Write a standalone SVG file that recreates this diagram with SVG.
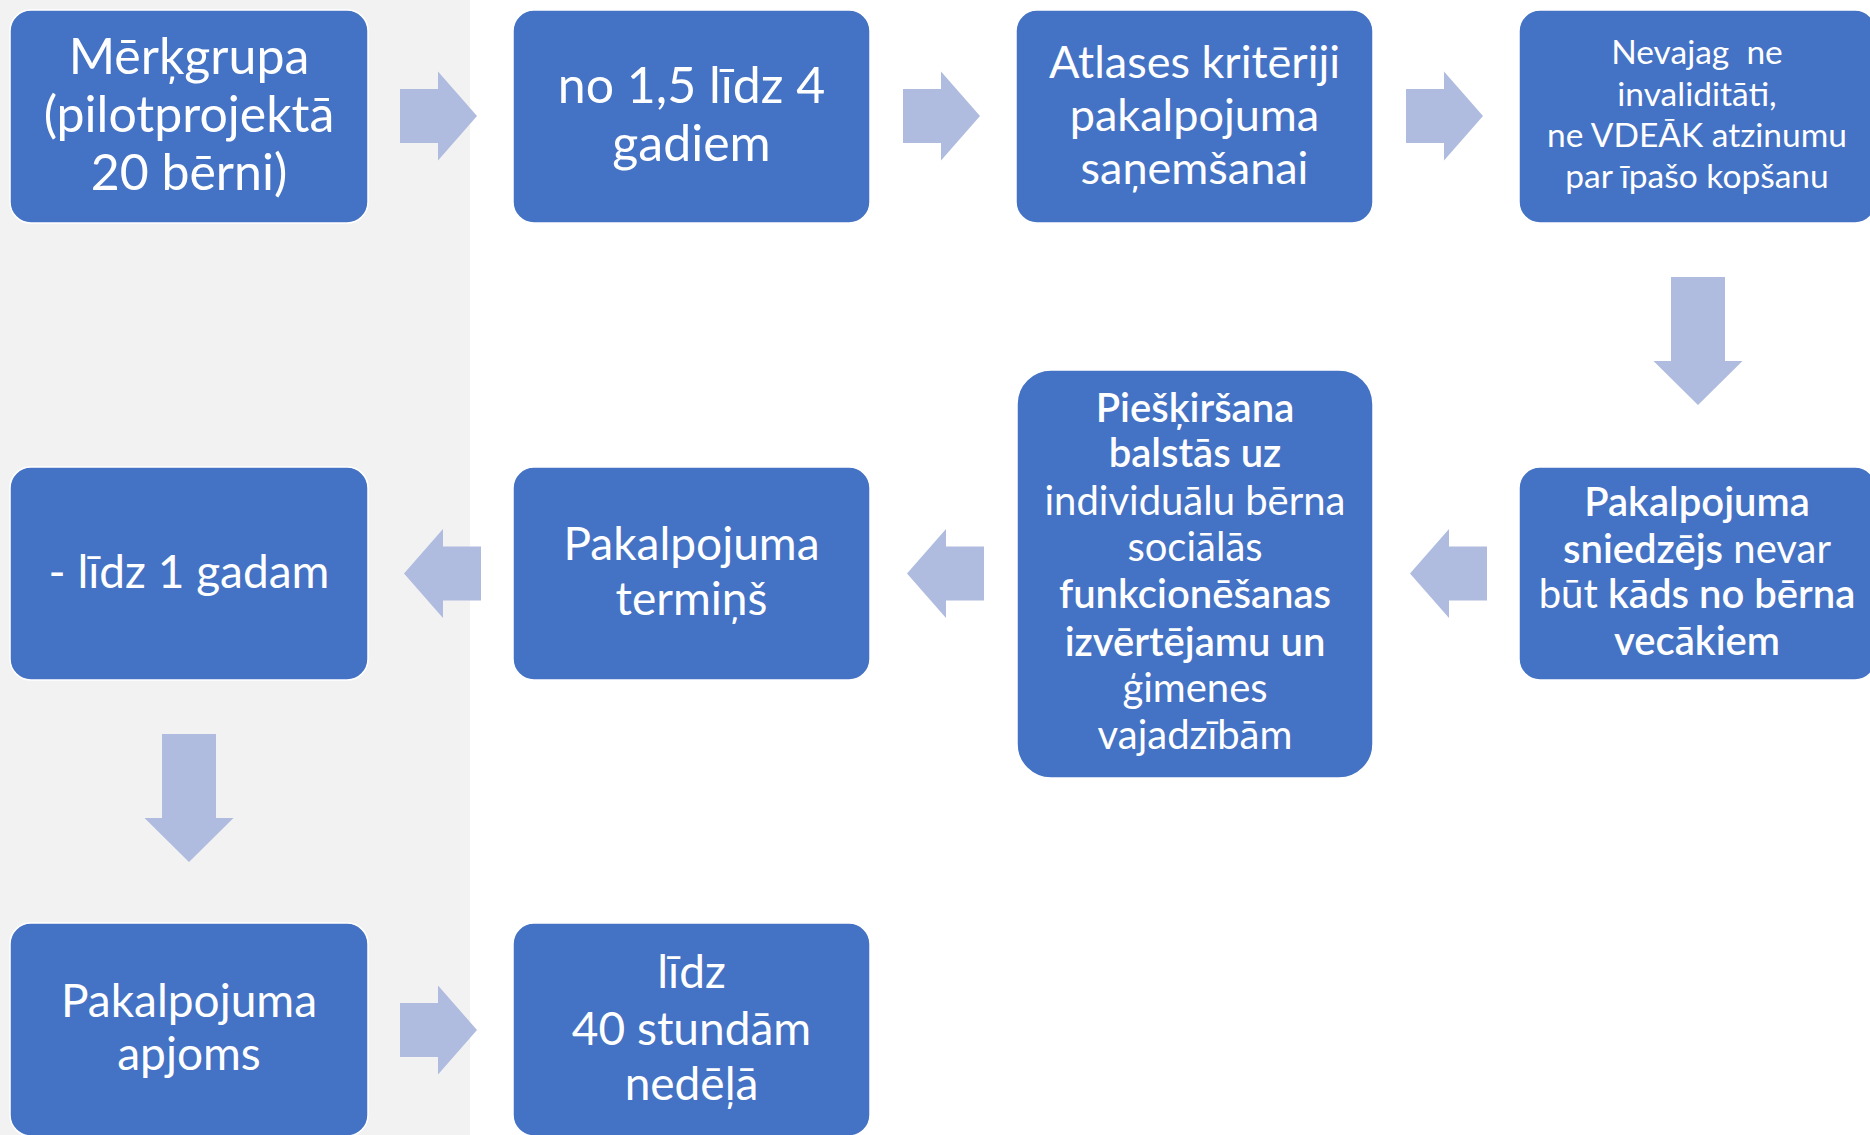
<svg xmlns="http://www.w3.org/2000/svg" width="1870" height="1135" viewBox="0 0 1870 1135">
<style>
.box{fill:#4472c4;stroke:#ffffff;stroke-width:1.5}
.t{fill:#ffffff;font-family:Lato,"Open Sans","Liberation Sans",sans-serif;text-anchor:middle;white-space:pre}
.xl{font-size:50px}
.lg{font-size:46px}
.md{font-size:45px}
.sm{font-size:40px}
.xs{font-size:33.5px}
.b{font-weight:600}
.arr{fill:#afbcdf}
</style>
<defs>
<path id="ar" d="M0,-27 H38 V-44.5 L77,0 L38,44.5 V27 H0 Z"/>
<path id="ad" d="M-27,0 H27 V84 H44.5 L0,128 L-44.5,84 H-27 Z"/>
</defs>
<rect x="0" y="0" width="470" height="1135" fill="#f2f2f2"/>
<g id="connectors" class="arr">
<use href="#ar" transform="translate(400,116)"/>
<use href="#ar" transform="translate(903,116)"/>
<use href="#ar" transform="translate(1406,116)"/>
<use href="#ad" transform="translate(1698,277)"/>
<use href="#ar" transform="translate(1487,573.5) scale(-1,1)"/>
<use href="#ar" transform="translate(984,573.5) scale(-1,1)"/>
<use href="#ar" transform="translate(481,573.5) scale(-1,1)"/>
<use href="#ad" transform="translate(189,734)"/>
<use href="#ar" transform="translate(400,1030)"/>
</g>
<g id="n1">
<rect class="box" x="10" y="10" width="358" height="213" rx="21"/>
<text class="t xl"><tspan x="189" y="74">Mērķgrupa</tspan><tspan x="189" y="132">(pilotprojektā</tspan><tspan x="189" y="190">20 bērni)</tspan></text>
</g>
<g id="n2">
<rect class="box" x="513" y="10" width="357" height="213" rx="21"/>
<text class="t xl"><tspan x="691.5" y="103">no 1,5 līdz 4</tspan><tspan x="691.5" y="161">gadiem</tspan></text>
</g>
<g id="n3">
<rect class="box" x="1016" y="10" width="357" height="213" rx="21"/>
<text class="t md"><tspan x="1194.5" y="77.5">Atlases kritēriji</tspan><tspan x="1194.5" y="130.5">pakalpojuma</tspan><tspan x="1194.5" y="183.5">saņemšanai</tspan></text>
</g>
<g id="n4">
<rect class="box" x="1519" y="10" width="357" height="213" rx="21"/>
<text class="t xs"><tspan x="1697" y="64">Nevajag  ne</tspan><tspan x="1697" y="106">invaliditāti,</tspan><tspan x="1697" y="147">ne VDEĀK atzinumu</tspan><tspan x="1697" y="188">par īpašo kopšanu</tspan></text>
</g>
<g id="n5">
<rect class="box" x="1519" y="467" width="357" height="213" rx="21"/>
<text class="t sm"><tspan x="1697" y="516" class="b">Pakalpojuma</tspan><tspan x="1697" y="563"><tspan class="b">sniedzējs</tspan> nevar</tspan><tspan x="1697" y="608">būt <tspan class="b">kāds no bērna</tspan></tspan><tspan x="1697" y="655" class="b">vecākiem</tspan></text>
</g>
<g id="n6">
<rect class="box" x="1017" y="370" width="356" height="408" rx="34"/>
<text class="t sm"><tspan x="1195" y="422" class="b">Piešķiršana</tspan><tspan x="1195" y="467" class="b">balstās uz</tspan><tspan x="1195" y="515">individuālu bērna</tspan><tspan x="1195" y="561">sociālās</tspan><tspan x="1195" y="608" class="b">funkcionēšanas</tspan><tspan x="1195" y="656" class="b">izvērtējamu un</tspan><tspan x="1195" y="702">ģimenes</tspan><tspan x="1195" y="749">vajadzībām</tspan></text>
</g>
<g id="n7">
<rect class="box" x="513" y="467" width="357" height="213" rx="21"/>
<text class="t lg"><tspan x="691.5" y="560">Pakalpojuma</tspan><tspan x="691.5" y="615">termiņš</tspan></text>
</g>
<g id="n8">
<rect class="box" x="10" y="467" width="358" height="213" rx="21"/>
<text class="t lg" x="189" y="588">- līdz 1 gadam</text>
</g>
<g id="n9">
<rect class="box" x="10" y="923" width="358" height="213" rx="21"/>
<text class="t lg"><tspan x="189" y="1017">Pakalpojuma</tspan><tspan x="189" y="1070">apjoms</tspan></text>
</g>
<g id="n10">
<rect class="box" x="513" y="923" width="357" height="213" rx="21"/>
<text class="t lg"><tspan x="691.5" y="988">līdz</tspan><tspan x="691.5" y="1045">40 stundām</tspan><tspan x="691.5" y="1100">nedēļā</tspan></text>
</g>
</svg>
